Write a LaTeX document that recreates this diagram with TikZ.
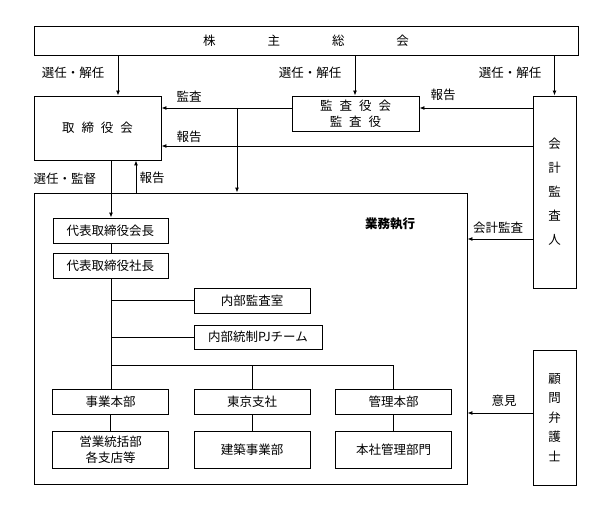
\documentclass[tikz,border=0pt]{standalone}
\usepackage{fontspec}
\setmainfont{Noto Sans CJK JP}
\usetikzlibrary{arrows.meta}
\begin{document}
\begin{tikzpicture}[x=1pt,y=-1pt,
  font=\fontsize{12.5}{14}\selectfont,
  box/.style={draw, line width=0.9pt, inner sep=0pt, align=center},
  arr/.style={line width=0.9pt, -{Latex[length=5pt,width=4pt]}},
  ln/.style={line width=0.9pt},
  lbl/.style={inner sep=0pt}]
\useasboundingbox (0,0) rectangle (598,511);
% boxes
\node[box, minimum width=544, minimum height=29] (top) at (306,40.5) {株\hskip52pt 主\hskip52pt 総\hskip52pt 会};
\node[box, minimum width=127, minimum height=64] (tori) at (97.5,128) {取\hskip7pt 締\hskip7pt 役\hskip7pt 会};
\node[box, minimum width=127, minimum height=35, font=\fontsize{12.5}{16}\selectfont] (kansa) at (355.5,113.5) {監\hskip7pt 査\hskip7pt 役\hskip7pt 会\\監\hskip7pt 査\hskip7pt 役};
\node[box, minimum width=43, minimum height=192, font=\fontsize{12.5}{24}\selectfont] (kaikei) at (554.5,192) {会\\計\\監\\査\\人};
\node[box, minimum width=433, minimum height=291] (big) at (250.5,338.5) {};
\node[lbl, font=\fontsize{12.5}{14}\selectfont\bfseries] (gyomu) at (390,224) {業務執行};
\node[box, minimum width=115, minimum height=25] (kaicho) at (110.5,230.5) {代表取締役会長};
\node[box, minimum width=115, minimum height=25] (shacho) at (110.5,265.5) {代表取締役社長};
\node[box, minimum width=116, minimum height=25] (naibu) at (252,300.5) {内部監査室};
\node[box, minimum width=128, minimum height=24] (pj) at (258,337) {内部統制PJチーム};
\node[box, minimum width=116, minimum height=25] (jigyo) at (110.5,402) {事業本部};
\node[box, minimum width=116, minimum height=25] (tokyo) at (252,402) {東京支社};
\node[box, minimum width=116, minimum height=25] (kanri) at (393.5,402) {管理本部};
\node[box, minimum width=116, minimum height=37, font=\fontsize{12.5}{16}\selectfont] (eigyo) at (110.5,449.5) {営業統括部\\各支店等};
\node[box, minimum width=116, minimum height=37] (kenchiku) at (252,449.5) {建築事業部};
\node[box, minimum width=116, minimum height=37] (honsha) at (393.5,449.5) {本社管理部門};
\node[box, minimum width=43, minimum height=135, font=\fontsize{12.5}{19.5}\selectfont] (komon) at (554.5,417.5) {顧\\問\\弁\\護\\士};
% labels
\node[lbl] (l1) at (73,73) {選任・解任};
\node[lbl] (l2) at (310,73) {選任・解任};
\node[lbl] (l3) at (510,73) {選任・解任};
\node[lbl] (l4) at (189,97) {監査};
\node[lbl] (l5) at (443,95) {報告};
\node[lbl] (l6) at (189,137) {報告};
\node[lbl] (l7) at (65,179) {選任・監督};
\node[lbl] (l8) at (152,178) {報告};
\node[lbl] (l9) at (498,228) {会計監査};
\node[lbl] (l10) at (504,401) {意見};
% connectors
\draw[arr] (top.south -| 118,0) -- (tori.north -| 118,0);
\draw[arr] (top.south -| 355,0) -- (kansa.north -| 355,0);
\draw[arr] (top.south -| kaikei.north) -- (kaikei.north);
\draw[arr] (kansa.west |- 0,108) -- (tori.east |- 0,108);
\coordinate (j1) at (237,108);
\draw[arr] (j1) -- (big.north -| j1);
\draw[arr] (kaikei.west |- 0,108) -- (kansa.east |- 0,108);
\draw[arr] (kaikei.west |- 0,146) -- (tori.east |- 0,146);
\draw[arr] (tori.south -| 111,0) -- (kaicho.north -| 111,0);
\draw[arr] (big.north -| 136,0) -- (tori.south -| 136,0);
\draw[arr] (kaikei.west |- 0,239) -- (big.east |- 0,239);
\draw[arr] (komon.west |- 0,413) -- (big.east |- 0,413);
\draw[ln] (kaicho.south -| 111,0) -- (shacho.north -| 111,0);
\draw[ln] (shacho.south -| 111,0) -- (jigyo.north -| 111,0);
\draw[ln] (naibu.west -| 111,0) -- (naibu.west);
\draw[ln] (pj.west -| 111,0) -- (pj.west);
\draw[ln] (111,365) -- (kanri.north |- 0,365) -- (kanri.north);
\draw[ln] (tokyo.north |- 0,365) -- (tokyo.north);
\draw[ln] (jigyo.south) -- (eigyo.north);
\draw[ln] (tokyo.south) -- (kenchiku.north);
\draw[ln] (kanri.south) -- (honsha.north);
\end{tikzpicture}
\end{document}
